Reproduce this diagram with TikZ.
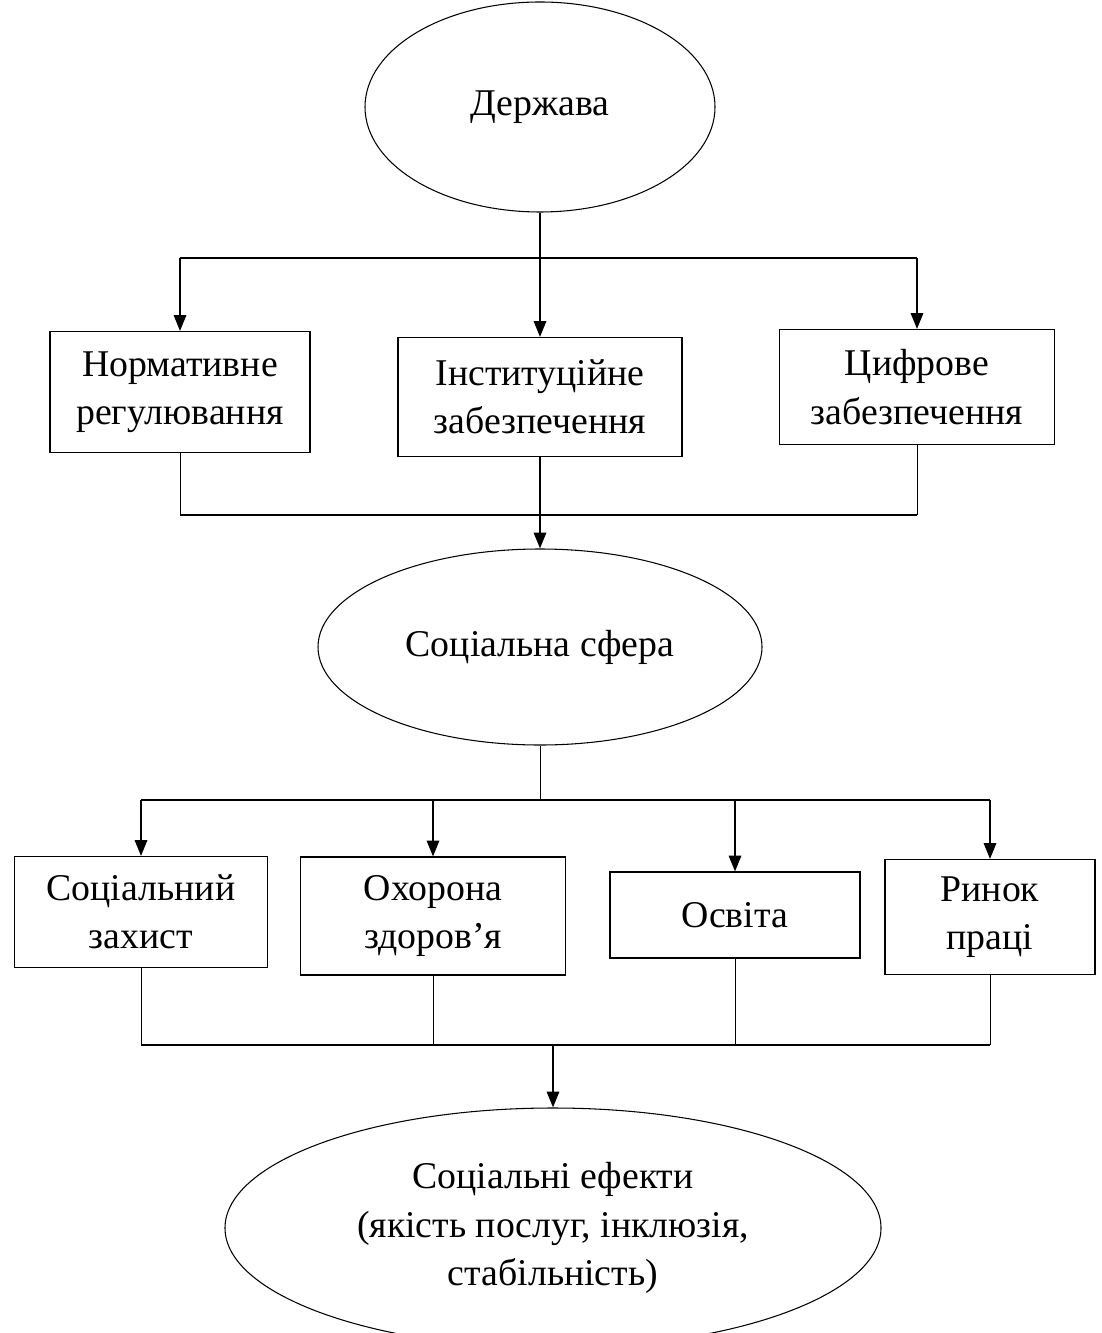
\documentclass[tikz,border=0pt]{standalone}
\usepackage{fontspec}
\setmainfont{Liberation Serif}
\usetikzlibrary{arrows.meta, positioning, shapes.geometric}

\begin{document}
\begin{tikzpicture}[x=0.2mm, y=-0.2mm,
  >={Triangle[length=9pt, width=7pt]},
  font=\fontsize{21.5}{27.5}\selectfont,
  box/.style={draw, line width=0.6pt, align=center, inner sep=2pt},
  oval/.style={draw, ellipse, line width=0.6pt, align=center, inner sep=0pt},
  arr/.style={->, line width=1.2pt},
  bus/.style={line width=0.9pt},
  leg/.style={line width=0.5pt}]

% Frame
\clip (0,0) rectangle (1101,1333);
\fill[white] (0,0) rectangle (1101,1333);

% Top level
\node[oval, minimum width=70mm, minimum height=42mm] (derzh) at (540,107) {Держава};

% Instruments
\node[box, minimum width=52mm, minimum height=24.2mm] (norm) at (180,392) {Нормативне\\регулювання};
\node[box, minimum width=56.8mm, minimum height=23.8mm] (inst) at (540,397) {Інституційне\\забезпечення};
\node[box, minimum width=55mm, minimum height=23mm] (tsyfr) at (917,387) {Цифрове\\забезпечення};

% Social sphere
\node[oval, minimum width=88.8mm, minimum height=39.2mm] (sfera) at (540,647) {Соціальна сфера};

% Sectors
\node[box, minimum width=50.6mm, minimum height=22.2mm] (zakhyst) at (141,912) {Соціальний\\захист};
\node[box, minimum width=53mm, minimum height=23.6mm] (okhorona) at (433,916) {Охорона\\здоров’я};
\node[box, minimum width=50mm, minimum height=17.2mm] (osvita) at (735,915) {Освіта};
\node[box, minimum width=42mm, minimum height=23mm] (rynok) at (990,917) {Ринок\\праці};

% Effects
\node[oval, minimum width=131.2mm, minimum height=48mm] (efekty) at (553,1228)
  {Соціальні ефекти\\(якість послуг, інклюзія,\\стабільність)};

% Bus levels
\coordinate (top1) at (0,258);
\coordinate (bot1) at (0,515);
\coordinate (top2) at (0,800);
\coordinate (bot2) at (0,1045);

% State -> instruments
\draw[bus] (norm.north |- top1) -- (tsyfr.north |- top1);
\draw[arr] (derzh.south) -- (inst.north);
\draw[arr] (norm.north |- top1) -- (norm.north);
\draw[arr] (tsyfr.north |- top1) -- (tsyfr.north);

% Instruments -> social sphere
\draw[leg] (norm.south) -- (norm.south |- bot1);
\draw[leg] (tsyfr.south) -- (tsyfr.south |- bot1);
\draw[bus] (norm.south |- bot1) -- (tsyfr.south |- bot1);
\draw[arr] (inst.south) -- (sfera.north);

% Social sphere -> sectors
\draw[leg] (sfera.south) -- (sfera.south |- top2);
\draw[bus] (zakhyst.north |- top2) -- (rynok.north |- top2);
\foreach \s in {zakhyst, okhorona, osvita, rynok}
  \draw[arr] (\s.north |- top2) -- (\s.north);

% Sectors -> effects
\foreach \s in {zakhyst, okhorona, osvita, rynok}
  \draw[leg] (\s.south) -- (\s.south |- bot2);
\draw[bus] (zakhyst.south |- bot2) -- (rynok.south |- bot2);
\draw[arr] (efekty.north |- bot2) -- (efekty.north);

\end{tikzpicture}
\end{document}
